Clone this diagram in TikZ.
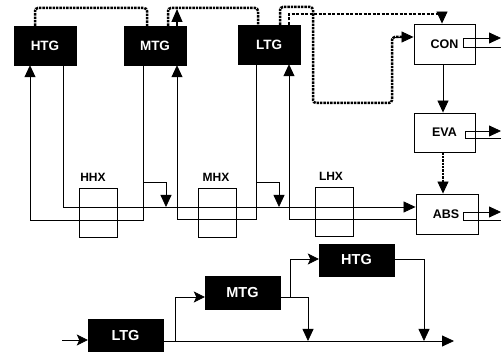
\documentclass[tikz,border=0pt]{standalone}
\usepackage{fontspec}
\setmainfont{Liberation Sans}
\usetikzlibrary{arrows.meta}
\tikzset{
  blk/.style={fill=black,draw=black,text=white,inner sep=0pt,font=\bfseries\fontsize{13.5}{14}\selectfont},
  wht/.style={fill=white,draw=black,line width=0.9pt,inner sep=0pt,font=\bfseries\fontsize{12.5}{13}\selectfont},
  hx/.style={draw=black,line width=0.9pt,inner sep=0pt,minimum width=38pt,minimum height=49pt},
  lab/.style={inner sep=0pt,font=\bfseries\fontsize{12}{13}\selectfont},
  pipe/.style={draw=black,line width=0.8pt},
  arr/.style={pipe,-{Triangle[length=12pt,width=11pt]}},
  barb/.style={pipe,-{Stealth[length=11pt,width=11pt,inset=2.5pt]}},
  steam/.style={draw=black,line width=2.5pt,dash pattern=on 2.4pt off 1pt,rounded corners=3pt},
  steamthin/.style={draw=black,line width=2pt,dash pattern=on 3pt off 1.5pt},
}
\begin{document}
\begin{tikzpicture}[x=1pt,y=-1pt]
\useasboundingbox (0,0) rectangle (501,352);
% upper generators
\node[blk,minimum width=62pt,minimum height=39pt] (htg) at (45,45.5) {HTG};
\node[blk,minimum width=62pt,minimum height=39pt] (mtg) at (155,45.5) {MTG};
\node[blk,minimum width=62pt,minimum height=39pt] (ltg) at (269,44.5) {LTG};
% right units
\node[wht,minimum width=61pt,minimum height=40pt] (con) at (444.5,44) {CON};
\node[wht,minimum width=61pt,minimum height=39pt] (eva) at (444.5,132.5) {EVA};
\node[wht,minimum width=62pt,minimum height=40pt] (abs) at (447,214) {\hspace*{-2pt}ABS};
% heat exchangers
\node[hx] (hhx) at (98.5,212.5) {};
\node[hx] (mhx) at (217,212.5) {};
\node[hx] (lhx) at (334,211.5) {};
\node[lab] (hhxl) at (93,177) {HHX};
\node[lab] (mhxl) at (216,177) {MHX};
\node[lab] (lhxl) at (331,176) {LHX};
% lower generators
\node[blk,minimum width=75pt,minimum height=33pt,font=\bfseries\fontsize{14.5}{15}\selectfont] (ltgb) at (125.5,335.5) {LTG};
\node[blk,minimum width=75pt,minimum height=33pt,font=\bfseries\fontsize{14.5}{15}\selectfont] (mtgb) at (242.5,292.5) {MTG};
\node[blk,minimum width=75pt,minimum height=32pt,font=\bfseries\fontsize{14.5}{15}\selectfont] (htgb) at (356.5,260) {HTG};
% top steam lines
\coordinate (t1) at (35,8);
\coordinate (t2) at (147,8);
\coordinate (t3) at (168,8);
\coordinate (t4) at (258,8);
\coordinate (t5) at (177,9);
\coordinate (t6) at (280,7);
\coordinate (t7) at (313,7);
\coordinate (t8) at (313,103);
\coordinate (t9) at (392,103);
\coordinate (t10) at (392,37);
\coordinate (t11) at (289,14);
\coordinate (t12) at (442,14);
\coordinate (t13) at (442,12);
\draw[steam] (t1 |- htg.north) -- (t1) -- (t2) -- (t2 |- mtg.north);
\draw[steam] (t3 |- mtg.north) -- (t3) -- (t4) -- (t4 |- ltg.north);
\draw[pipe,line width=1.2pt,-{Triangle[length=13pt,width=11pt]}] (t5 |- mtg.north) -- (t5);
\draw[steam] (t6 |- ltg.north) -- (t6) -- (t7) -- (t8) -- (t9) -- (t10) -- ++(10,0);
\draw[arr] (t10) -- (t10 -| con.west);
\draw[steamthin] (t11 |- ltg.north) -- (t11) -- (t12);
\draw[arr] (t13) -- (t13 |- con.north);
% condenser to evaporator to absorber
\coordinate (c1) at (443,100);
\draw[arr] (c1 |- con.south) -- (c1 |- eva.north);
\coordinate (e1) at (443,170);
\coordinate (e2) at (443,184);
\coordinate (e3) at (443,180);
\draw[steam] (e1 |- eva.south) -- (e2);
\draw[arr] (e3) -- (e3 |- abs.north);
% cooling coils
\coordinate (k1) at (501,38);
\coordinate (k2) at (463,38);
\coordinate (k3) at (463,47);
\coordinate (k4) at (501,47);
\draw[arr] (k4) -- (k3) -- (k2) -- (k1);
\coordinate (m1) at (501,131);
\coordinate (m2) at (465,131);
\coordinate (m3) at (465,138);
\coordinate (m4) at (501,138);
\draw[arr] (m4) -- (m3) -- (m2) -- (m1);
\coordinate (n1) at (501,212);
\coordinate (n2) at (463,212);
\coordinate (n3) at (463,220);
\coordinate (n4) at (501,220);
\draw[arr] (n4) -- (n3) -- (n2) -- (n1);
% solution lines
\coordinate (a1) at (30,220);
\coordinate (a2) at (143,220);
\draw[arr] (a2 |- mtg.south) -- (a2) -- (a1) -- (a1 |- htg.south);
\coordinate (b1) at (63,207);
\draw[arr] (b1 |- htg.south) -- (b1) -- (b1 -| abs.west);
\coordinate (d1) at (143,182);
\coordinate (d2) at (166,182);
\coordinate (d3) at (166,207);
\draw[arr] (d1) -- (d2) -- (d3);
\coordinate (f1) at (177,219);
\coordinate (f2) at (256,219);
\draw[arr] (f2 |- ltg.south) -- (f2) -- (f1) -- (f1 |- mtg.south);
\coordinate (g1) at (256,182);
\coordinate (g2) at (279,182);
\coordinate (g3) at (279,207);
\draw[arr] (g1) -- (g2) -- (g3);
\coordinate (h1) at (289,219);
\draw[arr] (abs.west |- h1) -- (h1) -- (h1 |- ltg.south);
% lower diagram
\coordinate (i1) at (62,340);
\draw[barb] (i1) -- (i1 -| ltgb.west);
\coordinate (o1) at (163,341);
\coordinate (o2) at (454,341);
\draw[arr] (ltgb.east |- o1) -- (o2);
\coordinate (p1) at (175,341);
\coordinate (p2) at (175,297);
\draw[barb] (p1) -- (p2) -- (p2 -| mtgb.west);
\coordinate (q1) at (308,297);
\coordinate (q2) at (308,341);
\draw[arr] (q1 -| mtgb.east) -- (q1) -- (q2);
\coordinate (u1) at (290,297);
\coordinate (u2) at (290,259);
\draw[barb] (u1) -- (u2) -- (u2 -| htgb.west);
\coordinate (v1) at (424,259);
\coordinate (v2) at (424,341);
\draw[arr] (v1 -| htgb.east) -- (v1) -- (v2);
\end{tikzpicture}
\end{document}
